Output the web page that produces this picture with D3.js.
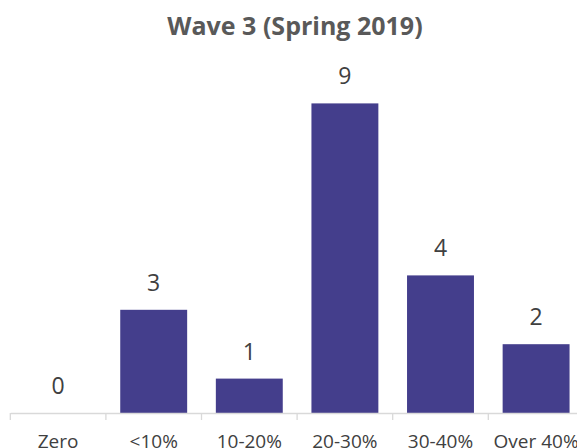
<!DOCTYPE html>
<html>
<head>
<meta charset="utf-8">
<script src="https://cdn.jsdelivr.net/npm/d3@7"></script>
<style>
  html, body { margin: 0; padding: 0; background: #fff; }
  svg { display: block; }
</style>
</head>
<body>
<svg id="chart" width="577" height="448"></svg>
<script>
const categories = ["Zero", "<10%", "10-20%", "20-30%", "30-40%", "Over 40%"];
const counts = [0, 3, 1, 9, 4, 2];
const yDomain = [0, 10];
const chartTitle = "Wave 3 (Spring 2019)";

const svg = d3.select("#chart");
const left = 10.3, step = 95.6;
const baseY = 413, topY = 69;

const x = d3.scaleBand()
  .domain(categories)
  .range([left, left + step * categories.length])
  .paddingInner(0.3)
  .paddingOuter(0.15);

const y = d3.scaleLinear().domain(yDomain).range([baseY, topY]);

// title
svg.append("text")
  .attr("x", 295)
  .attr("y", 35)
  .attr("text-anchor", "middle")
  .attr("font-family", "'Open Sans', sans-serif")
  .attr("font-weight", "bold")
  .attr("font-size", 25)
  .attr("fill", "#595959")
  .text(chartTitle);

// bars
svg.append("g").selectAll("rect")
  .data(categories)
  .join("rect")
  .attr("x", d => x(d))
  .attr("width", x.bandwidth())
  .attr("y", (d, i) => y(counts[i]))
  .attr("height", (d, i) => baseY - y(counts[i]))
  .attr("fill", "#443e8c");

// value labels
svg.append("g").selectAll("text")
  .data(categories)
  .join("text")
  .attr("x", d => x(d) + x.bandwidth() / 2)
  .attr("y", (d, i) => y(counts[i]) - 19)
  .attr("text-anchor", "middle")
  .attr("font-family", "'Open Sans', sans-serif")
  .attr("font-size", 23)
  .attr("fill", "#404040")
  .text((d, i) => counts[i]);

// category axis
const axis = svg.append("g")
  .attr("transform", `translate(0,${baseY})`)
  .call(d3.axisBottom(x).tickSize(0).tickPadding(22));
axis.select(".domain").attr("stroke", "#d9d9d9").attr("stroke-width", 1.3);
axis.selectAll(".tick text")
  .attr("font-family", "'Open Sans', sans-serif")
  .attr("font-size", 19)
  .attr("fill", "#404040");

// tick marks at category boundaries
const bounds = d3.range(categories.length + 1).map(i => x.range()[0] + i * x.step());
axis.selectAll(".bound")
  .data(bounds)
  .join("line")
  .attr("class", "bound")
  .attr("x1", d => d).attr("x2", d => d)
  .attr("y1", 0).attr("y2", 7)
  .attr("stroke", "#d9d9d9")
  .attr("stroke-width", 1.3);
</script>
</body>
</html>
